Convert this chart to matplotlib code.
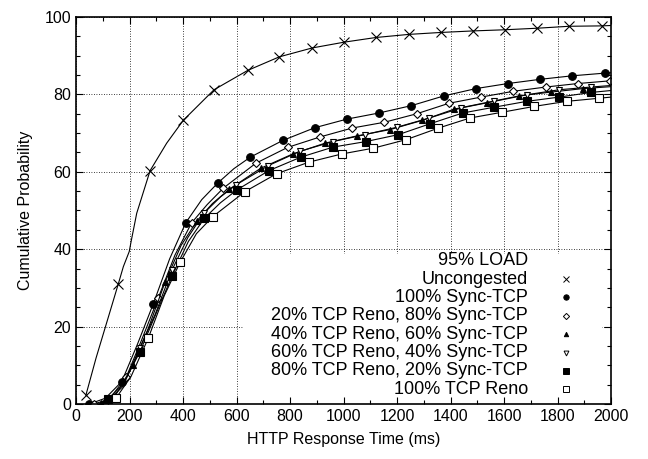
import matplotlib
matplotlib.use("Agg")
import matplotlib.pyplot as plt
from matplotlib.patches import Rectangle
from matplotlib.ticker import MultipleLocator

plt.rcParams['font.family'] = ['Liberation Sans', 'DejaVu Sans']

# Uncongested
unc_x = [37, 75, 125, 158, 177, 199, 206, 227, 277, 339, 401, 516, 642, 760, 883,
         1003, 1121, 1244, 1363, 1485, 1604, 1725, 1844, 1965, 2000]
unc_y = [2.3, 11.9, 23.4, 31.0, 35.5, 39.4, 42.0, 49.3, 60.3, 67.4, 73.3, 81.2, 86.2, 89.7, 92.0,
         93.5, 94.7, 95.5, 96.0, 96.4, 96.7, 97.1, 97.6, 97.7, 97.8]
unc_m = [0, 3, 8, 10, 11, 12, 13, 14, 15, 16, 17, 18, 19, 20, 21, 22, 23]

# 100% Sync-TCP
s100_x = [50, 110, 171, 230, 289, 350, 410, 470, 530, 590, 652, 773, 893, 1012,
          1133, 1254, 1375, 1495, 1614, 1736, 1855, 1978, 2000]
s100_y = [0.0, 1.5, 5.8, 15.5, 25.9, 37.5, 46.8, 52.8, 57.1, 60.8, 63.8, 68.1, 71.4, 73.6,
          75.2, 77.1, 79.6, 81.5, 82.8, 83.9, 84.8, 85.5, 85.6]
s100_m = [0, 2, 4, 6, 8, 10, 11, 12, 13, 14, 15, 16, 17, 18, 19, 20, 21]

# 20% TCP Reno, 80% Sync-TCP
r20_x = [68, 125, 188, 245, 308, 370, 432, 490, 551, 672, 791, 912, 1032,
         1153, 1274, 1394, 1514, 1635, 1756, 1875, 1996]
r20_y = [0.0, 1.3, 7.0, 16.5, 27.5, 38.5, 46.8, 51.5, 55.8, 62.2, 66.3, 69.0, 71.3,
         72.8, 75.0, 77.7, 79.3, 80.8, 81.9, 82.8, 83.5]
r20_m = [0, 2, 4, 6, 8, 9, 10, 11, 12, 13, 14, 15, 16, 17, 18, 19, 20]

# 40% TCP Reno, 60% Sync-TCP
r40_x = [93, 150, 213, 270, 333, 393, 453, 510, 573, 690, 810, 931, 1052,
         1174, 1295, 1414, 1535, 1656, 1776, 1896, 2000]
r40_y = [0.3, 2.5, 10.0, 19.5, 31.5, 41.0, 47.4, 51.8, 55.5, 60.9, 64.6, 67.4, 69.3,
         70.9, 73.3, 76.2, 77.9, 79.6, 80.6, 81.5, 82.0]
r40_m = [0, 2, 4, 6, 8, 9, 10, 11, 12, 13, 14, 15, 16, 17, 18, 19]

# 60% TCP Reno, 40% Sync-TCP
r60_x = [118, 175, 238, 295, 358, 418, 478, 540, 598, 719, 837, 960, 1080,
         1199, 1321, 1440, 1564, 1685, 1806, 1925, 2000]
r60_y = [0.8, 4.5, 14.5, 23.0, 34.5, 43.0, 49.3, 53.5, 56.6, 61.6, 65.3, 67.8, 69.6,
         71.5, 73.9, 76.5, 78.2, 79.9, 81.2, 81.9, 82.3]
r60_m = [0, 2, 4, 6, 8, 9, 10, 11, 12, 13, 14, 15, 16, 17, 18, 19]

# 80% TCP Reno, 20% Sync-TCP
r80_x = [118, 175, 239, 300, 360, 420, 480, 540, 601, 721, 841, 962, 1083,
         1205, 1323, 1446, 1564, 1685, 1806, 1925, 2000]
r80_y = [1.2, 5.0, 13.5, 23.5, 33.2, 42.0, 48.0, 52.0, 55.3, 60.3, 63.8, 66.4, 67.8,
         69.6, 72.4, 75.2, 76.7, 78.2, 79.3, 80.5, 81.0]
r80_m = [0, 2, 4, 6, 8, 9, 10, 11, 12, 13, 14, 15, 16, 17, 18, 19]

# 100% TCP Reno
r100_x = [150, 205, 270, 330, 389, 450, 511, 632, 750, 871, 993, 1111,
          1234, 1355, 1473, 1594, 1713, 1834, 1955, 2000]
r100_y = [1.6, 7.0, 17.0, 28.0, 36.6, 44.0, 48.4, 54.9, 59.5, 62.5, 64.6, 66.1,
          68.3, 71.3, 73.9, 75.4, 76.9, 78.2, 79.0, 79.3]
r100_m = [0, 2, 4, 6, 7, 8, 9, 10, 11, 12, 13, 14, 15, 16, 17, 18]

legend_title = "95% LOAD"
series = [
    ("Uncongested", unc_x, unc_y, unc_m, "x", "black", "black"),
    ("100% Sync-TCP", s100_x, s100_y, s100_m, "o", "black", "black"),
    ("20% TCP Reno, 80% Sync-TCP", r20_x, r20_y, r20_m, "D", "white", "black"),
    ("40% TCP Reno, 60% Sync-TCP", r40_x, r40_y, r40_m, "^", "black", "black"),
    ("60% TCP Reno, 40% Sync-TCP", r60_x, r60_y, r60_m, "v", "white", "black"),
    ("80% TCP Reno, 20% Sync-TCP", r80_x, r80_y, r80_m, "s", "black", "black"),
    ("100% TCP Reno", r100_x, r100_y, r100_m, "s", "white", "black"),
]
msizes = {"x": 6.5, "o": 5.5, "D": 4.5, "^": 4.5, "v": 5, "s": 5.5}

fig = plt.figure(figsize=(6.48, 4.59), dpi=100)
ax = fig.add_axes([0.1173, 0.1198, 0.8256, 0.8432])

ax.set_xlim(0, 2000)
ax.set_ylim(0, 100)
ax.xaxis.set_major_locator(MultipleLocator(200))
ax.xaxis.set_minor_locator(MultipleLocator(100))
ax.yaxis.set_major_locator(MultipleLocator(20))
ax.yaxis.set_minor_locator(MultipleLocator(5))
ax.tick_params(which='both', direction='in', top=True, right=True, labelsize=11.5, width=0.8)
ax.tick_params(which='major', length=5)
ax.tick_params(which='minor', length=3)
for s in ax.spines.values():
    s.set_linewidth(1.2)

# dotted grid at the major ticks, drawn under the key box
for xv in ax.get_xticks()[1:-1]:
    ax.axvline(xv, color='black', ls=(0, (1, 2)), lw=0.6, zorder=0.5)
for yv in ax.get_yticks()[1:-1]:
    ax.axhline(yv, color='black', ls=(0, (1, 2)), lw=0.6, zorder=0.5)

# opaque key box
ax.add_patch(Rectangle((0.312, 0.0), 0.671, 0.388, transform=ax.transAxes,
                       facecolor='white', edgecolor='none', zorder=1))

for label, xs, ys, mk_idx, mk, fc, ec in series:
    ax.plot(xs, ys, color='black', lw=0.8, marker=mk, markevery=mk_idx,
            ms=msizes[mk], mfc=fc, mec=ec, mew=0.8, zorder=2)

# key: text right aligned, symbol on the right
ty = 0.3703
dy = 0.04747
ax.text(0.845, ty, legend_title, transform=ax.transAxes, ha='right', va='center',
        fontsize=13, zorder=3)
for i, (label, xs, ys, mk_idx, mk, fc, ec) in enumerate(series):
    yy = ty - dy * (i + 1)
    ax.text(0.845, yy, label, transform=ax.transAxes, ha='right', va='center',
            fontsize=13, zorder=3)
    ax.plot([0.916], [yy], transform=ax.transAxes, marker=mk, ms=msizes[mk] * 0.7,
            mfc=fc, mec=ec, mew=0.7, color='black', ls='none', zorder=3)

ax.set_xlabel("HTTP Response Time (ms)", fontsize=11.5, labelpad=6)
ax.set_ylabel("Cumulative Probability", fontsize=11.5, labelpad=8)

fig.savefig("out.png", dpi=100)
